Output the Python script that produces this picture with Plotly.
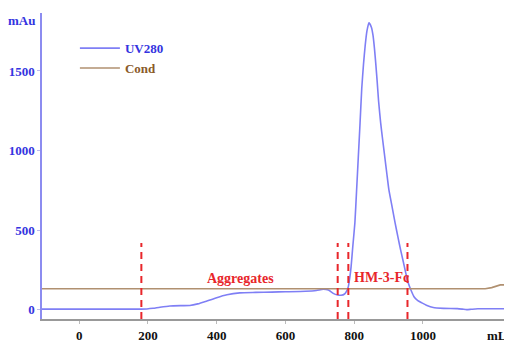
import plotly.graph_objects as go

# UV280 trace (mL, mAu)
uv_ml = [-108, 100, 180, 197, 215, 235, 264, 300, 322, 345, 370, 400, 430, 467, 513, 560, 600, 658, 690,
         710, 725, 739, 752, 762, 772, 778, 783, 787, 791, 796, 802, 807, 812, 817, 822, 827, 832, 837,
         843, 850, 855, 859, 863, 867, 871, 877, 883, 889, 895, 901, 910, 919, 927, 935, 942, 948, 953,
         957, 965, 974, 985, 997, 1010, 1030, 1060, 1100, 1115, 1127, 1140, 1160, 1200, 1259]
uv_val = [5, 5, 5, 6, 10, 17, 25, 27, 28, 38, 55, 77, 95, 107, 110, 112, 114, 117, 122,
          130, 125, 104, 94, 92, 100, 118, 146, 200, 270, 400, 546, 750, 960, 1170, 1390, 1540, 1660, 1750,
          1803, 1775, 1720, 1640, 1540, 1430, 1310, 1174, 1065, 960, 855, 753, 650, 546, 460, 377, 310, 251, 205,
          170, 125, 83, 58, 44, 30, 15, 10, 8, 5, 2, 4, 7, 7, 7]

# Conductivity trace
cond_ml = [-108, 1181, 1200, 1212, 1225, 1259]
cond_val = [133, 133, 140, 150, 157, 157]

# Fraction markers
cut_ml = [181, 752, 783, 955]
cut_top = 420
cut_bottom = -57

x_ticks = [0, 200, 400, 600, 800, 1000]
y_ticks = [0, 500, 1000, 1500]

labels = ["Aggregates", "HM-3-Fc"]
label_ml = [468, 878]
label_val = [198, 203]

FONT = "Liberation Serif"
UV_COL = "#7f7ff5"
COND_COL = "#b09070"
RED = "#e8262b"
BLUE_TXT = "#3434e0"
BROWN_TXT = "#8a5a2a"

fig = go.Figure()
fig.add_trace(go.Scatter(x=uv_ml, y=uv_val, mode="lines",
                         name=f"<span style='color:{BLUE_TXT}'>UV280</span>",
                         line=dict(color=UV_COL, width=1.6, shape="spline", smoothing=0.5)))
fig.add_trace(go.Scatter(x=cond_ml, y=cond_val, mode="lines",
                         name=f"<span style='color:{BROWN_TXT}'>Cond</span>",
                         line=dict(color=COND_COL, width=1.6)))
for xm in cut_ml:
    fig.add_trace(go.Scatter(x=[xm, xm], y=[cut_bottom, cut_top], mode="lines", showlegend=False,
                             line=dict(color=RED, width=2, dash="7px,5px"), hoverinfo="skip"))

for t, xm, yv in zip(labels, label_ml, label_val):
    fig.add_annotation(x=xm, y=yv, text=t, showarrow=False,
                       font=dict(family=FONT, size=14, color=RED, weight="bold"))

fig.add_annotation(xref="paper", x=-0.044, xanchor="center", y=1820, text="mAu", showarrow=False,
                   font=dict(family=FONT, size=13, color=BLUE_TXT, weight="bold"))
fig.add_annotation(x=1215, xanchor="center", yref="paper", y=-0.022, yanchor="top", text="mL",
                   showarrow=False, font=dict(family=FONT, size=13, color="#111", weight="bold"))

fig.update_layout(
    width=504, height=335,
    margin=dict(l=34, r=0, t=5, b=24),
    paper_bgcolor="white", plot_bgcolor="white",
    showlegend=True,
    legend=dict(x=0.07, y=0.934, xanchor="left", yanchor="top", bgcolor="rgba(0,0,0,0)",
                font=dict(family=FONT, size=13, weight="bold"), tracegroupgap=0, itemwidth=40),
    xaxis=dict(range=[-108, 1259], tickvals=x_ticks, showgrid=False, zeroline=False,
               showline=True, linecolor="#999999", linewidth=2, ticks="outside", ticklen=3,
               tickcolor="#bbbbbb", tickfont=dict(family=FONT, size=13, color="#111", weight="bold")),
    yaxis=dict(range=[-57, 1864], tickvals=y_ticks, showgrid=False, zeroline=False,
               showline=True, linecolor="#8c8cf0", linewidth=1.5, ticks="outside", ticklen=3,
               tickcolor="#bbbbee", tickfont=dict(family=FONT, size=13, color=BLUE_TXT, weight="bold")),
)

fig.write_html("out.html")
